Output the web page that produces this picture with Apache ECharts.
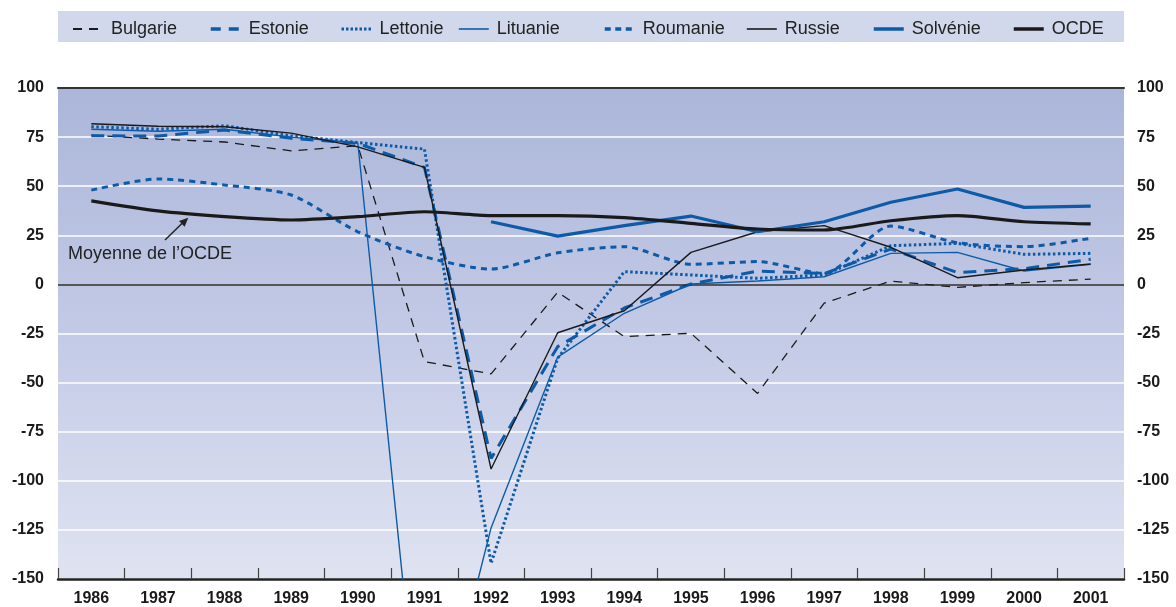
<!DOCTYPE html>
<html>
<head>
<meta charset="utf-8">
<script src="https://cdn.jsdelivr.net/npm/echarts@6/dist/echarts.min.js"></script>
<style>html,body{margin:0;padding:0;background:#fff}#c{width:1176px;height:607px}</style>
</head>
<body>
<div id="c"></div>
<script>
const years = ['1986','1987','1988','1989','1990','1991','1992','1993','1994','1995','1996','1997','1998','1999','2000','2001'];
const yTicks = [-150,-125,-100,-75,-50,-25,0,25,50,75,100];
const bulgarie = [76,74,72.5,68,70.6,-39.3,-45.6,-4,-26.6,-24.9,-55.5,-9.5,1.7,-1.5,0.9,2.7];
const estonie  = [75.7,75.5,78.6,74.4,71.8,59.6,-88.6,-31.7,-12,0.2,6.8,5.5,18,6,8,12.8];
const lettonie = [80.3,79,80.8,75.6,72.2,68.9,-142,-37.6,6.5,4.8,3.1,4.8,19.7,20.9,15.3,15.8];
const lituanie = [79,78,79,75,72,-258,-124,-37,-14.7,0.2,1.7,3.9,15.8,16.3,6.8,10.2];
const roumanie = [48,53.7,50.6,45.5,26.8,14.1,7.8,16.1,19.2,10.2,11.6,5.6,29.7,21.2,19.2,23.5];
const russie   = [81.8,80.5,80.3,77,70,59.6,-94,-24.6,-13.4,16.3,26.8,29.9,18.9,3.4,7.3,10.4];
const solvenie = [null,null,null,null,null,null,31.9,24.6,29.9,34.8,26.8,31.9,41.8,48.6,39.2,39.9];
const ocde     = [42.5,37.4,34.5,32.8,34.5,37,35,35,34,31.1,28.2,27.7,32.4,35,31.9,30.8];
const annotation = "Moyenne de l\u2019OCDE";

const BLUE = '#0d5ba8';
const BLACK = '#1a1a1a';
const FONT = '"Liberation Sans", Arial, sans-serif';

const seriesDefs = [
  {name:'Bulgarie', data:bulgarie, color:BLACK, width:1.3, type:[9,7], lw:2, ltype:[9,7]},
  {name:'Estonie', data:estonie, color:BLUE, width:3, type:[13,8], lw:3.5, ltype:[10,8]},
  {name:'Lettonie', data:lettonie, color:BLUE, width:3, type:[2.5,2.5], lw:3, ltype:[2.5,2]},
  {name:'Lituanie', data:lituanie, color:BLUE, width:1.4, type:'solid', lw:1.6, ltype:'solid'},
  {name:'Roumanie', data:roumanie, color:BLUE, width:3, type:[6,5], smooth:0.25, lw:3.5, ltype:[6,4.5]},
  {name:'Russie', data:russie, color:BLACK, width:1.4, type:'solid', lw:1.6, ltype:'solid'},
  {name:'Solvénie', data:solvenie, color:BLUE, width:3.2, type:'solid', lw:3.5, ltype:'solid'},
  {name:'OCDE', data:ocde, color:BLACK, width:3.2, type:'solid', smooth:0.25, lw:3.5, ltype:'solid'}
];
const legendLeft = [72,209,340,458,603,746,872,1012];

const series = seriesDefs.map((s,i)=>({
  name:s.name, type:'line', data:s.data, symbol:'none', smooth:s.smooth||false,
  connectNulls:false, clip:true,
  lineStyle:{color:s.color, width:s.width, type:s.type},
  itemStyle:{color:s.color},
  z: 3 + i,
  emphasis:{disabled:true}
}));
series[0].markLine = {
  silent:true, symbol:'none', label:{show:false},
  lineStyle:{color:'#222', width:1.5, type:'solid'},
  data:[{yAxis:0}], animation:false
};

const chart = echarts.init(document.getElementById('c'), null, {renderer:'canvas'});
chart.setOption({
  animation:false,
  backgroundColor:'#ffffff',
  textStyle:{fontFamily:FONT},
  graphic:[
    {type:'rect', shape:{x:58, y:11, width:1066, height:31}, style:{fill:'#d1d8ec'}, z:-10},
    {type:'text', left:68, top:245, style:{text:annotation, font:'18px '+FONT, fill:'#222'}, z:50},
    {type:'line', shape:{x1:165, y1:240, x2:184, y2:221.5}, style:{stroke:'#222', lineWidth:1.5}, z:50},
    {type:'polygon', shape:{points:[[188.3,217.7],[184.6,226.8],[179.0,221.0]]}, style:{fill:'#222'}, z:50}
  ],
  legend: seriesDefs.map((s,i)=>({
    data:[s.name], left:legendLeft[i], top:20, padding:0,
    itemWidth:30, itemHeight:14, itemGap:0,
    selectedMode:false,
    itemStyle:{opacity:0, borderWidth:0},
    lineStyle:{width:s.lw, type:s.ltype, color:s.color},
    textStyle:{fontSize:18, color:'#222', fontFamily:FONT, padding:[0,0,0,3]}
  })),
  grid:{left:58, right:52, top:88, bottom:28, show:true, borderWidth:0,
    backgroundColor:new echarts.graphic.LinearGradient(0,0,0,1,[
      {offset:0,color:'#abb6d9'},{offset:0.5,color:'#c3cae6'},{offset:1,color:'#dfe3f1'}])},
  xAxis:[{
    type:'category', data:years, boundaryGap:true, position:'bottom',
    axisLine:{show:true, onZero:false, lineStyle:{color:'#222', width:2.5}},
    axisTick:{show:true, inside:true, length:11, lineStyle:{color:'#444', width:1.2}},
    axisLabel:{fontSize:16, fontWeight:'bold', color:'#1a1a1a', margin:12, fontFamily:FONT},
    splitLine:{show:false}
  },{
    type:'category', data:years, position:'top',
    axisLine:{show:true, onZero:false, lineStyle:{color:'#333', width:2}},
    axisTick:{show:false}, axisLabel:{show:false}, splitLine:{show:false}
  }],
  yAxis:[{
    type:'value', min:-150, max:100, interval:25, position:'left',
    axisLine:{show:false}, axisTick:{show:false},
    axisLabel:{fontSize:16, fontWeight:'bold', color:'#1a1a1a', margin:14, fontFamily:FONT,
      padding:[0,0,10,0], formatter:v=>yTicks.includes(v)?String(v):''},
    splitLine:{show:true, lineStyle:{color:'#ffffff', width:1.5}}
  },{
    type:'value', min:-150, max:100, interval:25, position:'right',
    axisLine:{show:false}, axisTick:{show:false},
    axisLabel:{fontSize:16, fontWeight:'bold', color:'#1a1a1a', margin:13, fontFamily:FONT,
      padding:[0,0,10,0], formatter:v=>yTicks.includes(v)?String(v):''},
    splitLine:{show:false}
  }],
  series:series
});
</script>
</body>
</html>
